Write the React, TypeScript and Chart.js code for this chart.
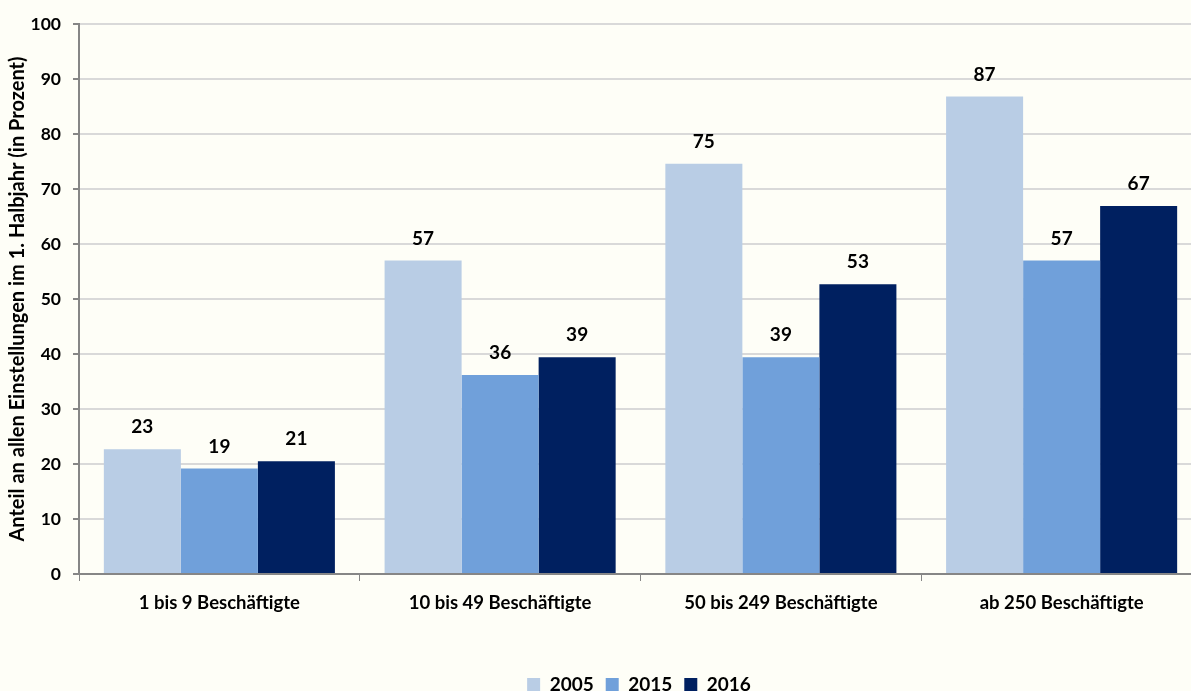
import React, { useEffect, useRef } from "react";
import { Chart, registerables } from "chart.js";

Chart.register(...registerables);

const categories = [
  "1 bis 9 Beschäftigte",
  "10 bis 49 Beschäftigte",
  "50 bis 249 Beschäftigte",
  "ab 250 Beschäftigte",
];
const values2005 = [22.7, 57.0, 74.6, 86.8];
const values2015 = [19.2, 36.2, 39.4, 57.0];
const values2016 = [20.5, 39.4, 52.7, 66.9];
const yTicks = [0, 10, 20, 30, 40, 50, 60, 70, 80, 90, 100];
const yTitle = "Anteil an allen Einstellungen im 1. Halbjahr (in Prozent)";

const FONT = "Lato, 'Open Sans', sans-serif";
const BG = "#FEFEF7";

const valueLabels = {
  id: "valueLabels",
  afterDatasetsDraw(chart: any) {
    const ctx = chart.ctx;
    ctx.save();
    ctx.font = `bold 19px ${FONT}`;
    ctx.fillStyle = "#000000";
    ctx.textAlign = "center";
    ctx.textBaseline = "middle";
    chart.data.datasets.forEach((ds: any, i: number) => {
      const meta = chart.getDatasetMeta(i);
      meta.data.forEach((bar: any, j: number) => {
        const v = ds.data[j];
        ctx.fillText(String(Math.round(v)), bar.x, bar.y - 22);
      });
    });
    ctx.restore();
  },
};

const bgPlugin = {
  id: "bgPlugin",
  beforeDraw(chart: any) {
    const ctx = chart.ctx;
    ctx.save();
    ctx.fillStyle = BG;
    ctx.fillRect(0, 0, chart.width, chart.height);
    ctx.restore();
  },
};

const legendShift = {
  id: "legendShift",
  afterLayout(chart: any) {
    if (chart.legend) {
      chart.legend.left += 38;
      chart.legend.right += 38;
    }
  },
};

export default function App() {
  const ref = useRef<HTMLCanvasElement | null>(null);
  useEffect(() => {
    if (!ref.current) return;
    const chart = new Chart(ref.current, {
      type: "bar",
      data: {
        labels: categories,
        datasets: [
          { label: "2005", data: values2005, backgroundColor: "#B9CDE5" },
          { label: "2015", data: values2015, backgroundColor: "#70A0DA" },
          { label: "2016", data: values2016, backgroundColor: "#002060" },
        ],
      },
      options: {
        responsive: false,
        animation: false,
        layout: { padding: { top: 24, left: 0, right: 0, bottom: 0 } },
        datasets: {
          bar: { categoryPercentage: 0.823, barPercentage: 1.0 },
        },
        plugins: {
          legend: {
            position: "bottom",
            labels: {
              boxWidth: 13,
              boxHeight: 13,
              padding: 12,
              font: { family: FONT, size: 19, weight: "bold" },
              color: "#000000",
            },
          },
          tooltip: { enabled: false },
        },
        scales: {
          x: {
            afterFit(scale: any) {
              scale.height = 89;
            },
            border: { display: true, color: "#868686", width: 2 },
            grid: {
              display: true,
              drawOnChartArea: false,
              drawTicks: true,
              tickLength: 7,
              tickColor: "#868686",
              offset: true,
            },
            ticks: {
              font: { family: FONT, size: 18.5, weight: "bold" },
              color: "#000000",
              padding: 11,
              maxRotation: 0,
            },
          },
          y: {
            min: 0,
            max: 100,
            afterFit(scale: any) {
              scale.width = 79;
            },
            afterBuildTicks(scale: any) {
              scale.ticks = yTicks.map((v) => ({ value: v }));
            },
            border: { display: true, color: "#868686", width: 2 },
            grid: {
              color: "#D9D9D9",
              lineWidth: 2,
              drawTicks: true,
              tickLength: 6,
              tickColor: "#868686",
            },
            ticks: {
              font: { family: FONT, size: 17.5, weight: "bold" },
              color: "#000000",
              padding: 12,
            },
            title: {
              display: true,
              text: yTitle,
              font: { family: FONT, size: 20, weight: "bold" },
              color: "#000000",
              padding: { top: 6, bottom: 0 },
            },
          },
        },
      },
      plugins: [bgPlugin, legendShift, valueLabels],
    });
    return () => chart.destroy();
  }, []);
  return (
    <div
      style={{
        position: "fixed",
        left: 0,
        top: 0,
        width: 1191,
        height: 691,
        overflow: "hidden",
        background: BG,
      }}
    >
      <canvas ref={ref} width={1202} height={704} style={{ display: "block" }} />
    </div>
  );
}
